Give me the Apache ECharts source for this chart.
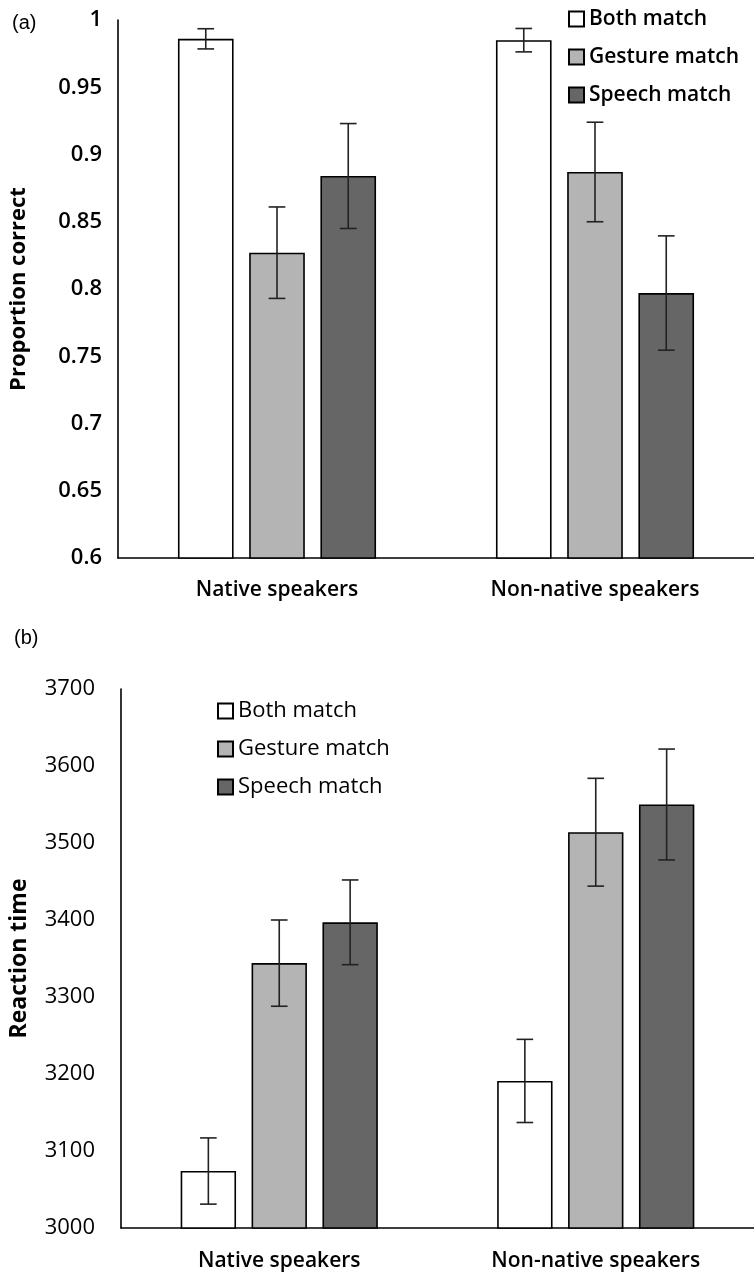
<!DOCTYPE html>
<html>
<head>
<meta charset="utf-8">
<script src="https://cdn.jsdelivr.net/npm/echarts@6/dist/echarts.min.js"></script>
<style>
html,body{margin:0;padding:0;background:#fff;}
#chart{width:754px;height:1278px;}
</style>
</head>
<body>
<div id="chart"></div>
<script>
const categories = ['Native speakers', 'Non-native speakers'];
const seriesNames = ['Both match', 'Gesture match', 'Speech match'];

// Panel (a): proportion correct
const accBoth = [0.986, 0.985];
const accGesture = [0.827, 0.887];
const accSpeech = [0.884, 0.797];
const accErrBoth = [0.0075, 0.0087];
const accErrGesture = [0.034, 0.037];
const accErrSpeech = [0.039, 0.0425];
const accTicks = {min: 0.6, max: 1, interval: 0.05};

// Panel (b): reaction time
const rtBoth = [3074, 3191];
const rtGesture = [3344, 3514];
const rtSpeech = [3397, 3550];
const rtErrBoth = [43, 54];
const rtErrGesture = [56, 70];
const rtErrSpeech = [55, 72];
const rtTicks = {min: 3000, max: 3700, interval: 100};

const colors = ['#ffffff', '#b4b4b4', '#666666'];
const BAR_W = 0.175, BAR_GAP = 0.28;
const FONT = '"Open Sans", Lato, sans-serif';

function errRender(idx) {
  return function (params, api) {
    const cat = api.value(0), v = api.value(1), e = api.value(2);
    const band = api.size([1, 0])[0];
    const w = band * BAR_W, g = w * BAR_GAP;
    const total = 3 * w + 2 * g;
    const cx = api.coord([cat, v])[0] - total / 2 + w / 2 + idx * (w + g);
    const yt = api.coord([cat, v + e])[1];
    const yb = api.coord([cat, v - e])[1];
    const c = w * 0.15;
    const st = {stroke: '#222', lineWidth: 1.6};
    return {type: 'group', children: [
      {type: 'line', shape: {x1: cx, y1: yt, x2: cx, y2: yb}, style: st},
      {type: 'line', shape: {x1: cx - c, y1: yt, x2: cx + c, y2: yt}, style: st},
      {type: 'line', shape: {x1: cx - c, y1: yb, x2: cx + c, y2: yb}, style: st}
    ]};
  };
}

function barSeries(name, data, i, axis) {
  return {
    name: name, type: 'bar', data: data,
    xAxisIndex: axis, yAxisIndex: axis,
    barWidth: (BAR_W * 100) + '%', barGap: (BAR_GAP * 100) + '%',
    itemStyle: {color: colors[i], borderColor: '#000', borderWidth: 1.6},
    emphasis: {disabled: true},
    z: 2
  };
}
function errSeries(vals, errs, i, axis) {
  return {
    type: 'custom', xAxisIndex: axis, yAxisIndex: axis,
    renderItem: errRender(i),
    data: vals.map((v, k) => [k, v, errs[k]]),
    z: 5, silent: true
  };
}

const accVals = [accBoth, accGesture, accSpeech];
const accErrs = [accErrBoth, accErrGesture, accErrSpeech];
const rtVals = [rtBoth, rtGesture, rtSpeech];
const rtErrs = [rtErrBoth, rtErrGesture, rtErrSpeech];

const series = [];
seriesNames.forEach((n, i) => series.push(barSeries(n, accVals[i], i, 0)));
seriesNames.forEach((n, i) => series.push(barSeries(n, rtVals[i], i, 1)));
seriesNames.forEach((n, i) => series.push(errSeries(accVals[i], accErrs[i], i, 0)));
seriesNames.forEach((n, i) => series.push(errSeries(rtVals[i], rtErrs[i], i, 1)));

const axisLine = {show: true, lineStyle: {color: '#000', width: 1.6}};

function legendCfg(left, top, size, weight) {
  return {
    left: left, top: top,
    orient: 'vertical', icon: 'rect', itemWidth: 15, itemHeight: 15, itemGap: 14,
    data: seriesNames, selectedMode: false,
    textStyle: {fontFamily: FONT, fontSize: size, fontWeight: weight, color: '#000', lineHeight: 24}
  };
}

const chart = echarts.init(document.getElementById('chart'), null, {renderer: 'canvas'});
chart.setOption({
  animation: false,
  backgroundColor: '#fff',
  title: [
    {text: '(a)', left: 7, top: 8, textStyle: {fontFamily: '"Liberation Sans", Arial', fontSize: 20, fontWeight: 'normal', color: '#000'}},
    {text: '(b)', left: 9, top: 623, textStyle: {fontFamily: '"Liberation Sans", Arial', fontSize: 20, fontWeight: 'normal', color: '#000'}}
  ],
  legend: [
    legendCfg(563, 2, 21, 600),
    legendCfg(212, 694, 22, 'normal')
  ],
  grid: [
    {left: 116, right: 0, top: 20, height: 538},
    {left: 119, right: 0, top: 689, height: 539}
  ],
  xAxis: [
    {type: 'category', gridIndex: 0, data: categories, axisLine: axisLine, axisTick: {show: false},
     axisLabel: {fontFamily: FONT, fontSize: 21, fontWeight: 600, color: '#000', margin: 22}},
    {type: 'category', gridIndex: 1, data: categories, axisLine: axisLine, axisTick: {show: false},
     axisLabel: {fontFamily: FONT, fontSize: 21, fontWeight: 600, color: '#000', margin: 23}}
  ],
  yAxis: [
    {type: 'value', gridIndex: 0, min: accTicks.min, max: accTicks.max, interval: accTicks.interval,
     axisLine: axisLine, axisTick: {show: false}, splitLine: {show: false},
     axisLabel: {fontFamily: FONT, fontSize: 22, fontWeight: 600, color: '#000', margin: 16,
                 formatter: v => String(Math.round(v * 100) / 100)},
     name: 'Proportion correct', nameLocation: 'middle', nameGap: 88,
     nameTextStyle: {fontFamily: FONT, fontSize: 22, fontWeight: 'bold', color: '#000'}},
    {type: 'value', gridIndex: 1, min: rtTicks.min, max: rtTicks.max, interval: rtTicks.interval,
     axisLine: axisLine, axisTick: {show: false}, splitLine: {show: false},
     axisLabel: {fontFamily: FONT, fontSize: 22, color: '#000', margin: 26,
                 formatter: v => String(v)},
     name: 'Reaction time', nameLocation: 'middle', nameGap: 90,
     nameTextStyle: {fontFamily: FONT, fontSize: 23, fontWeight: 'bold', color: '#000'}}
  ],
  series: series
});
</script>
</body>
</html>
